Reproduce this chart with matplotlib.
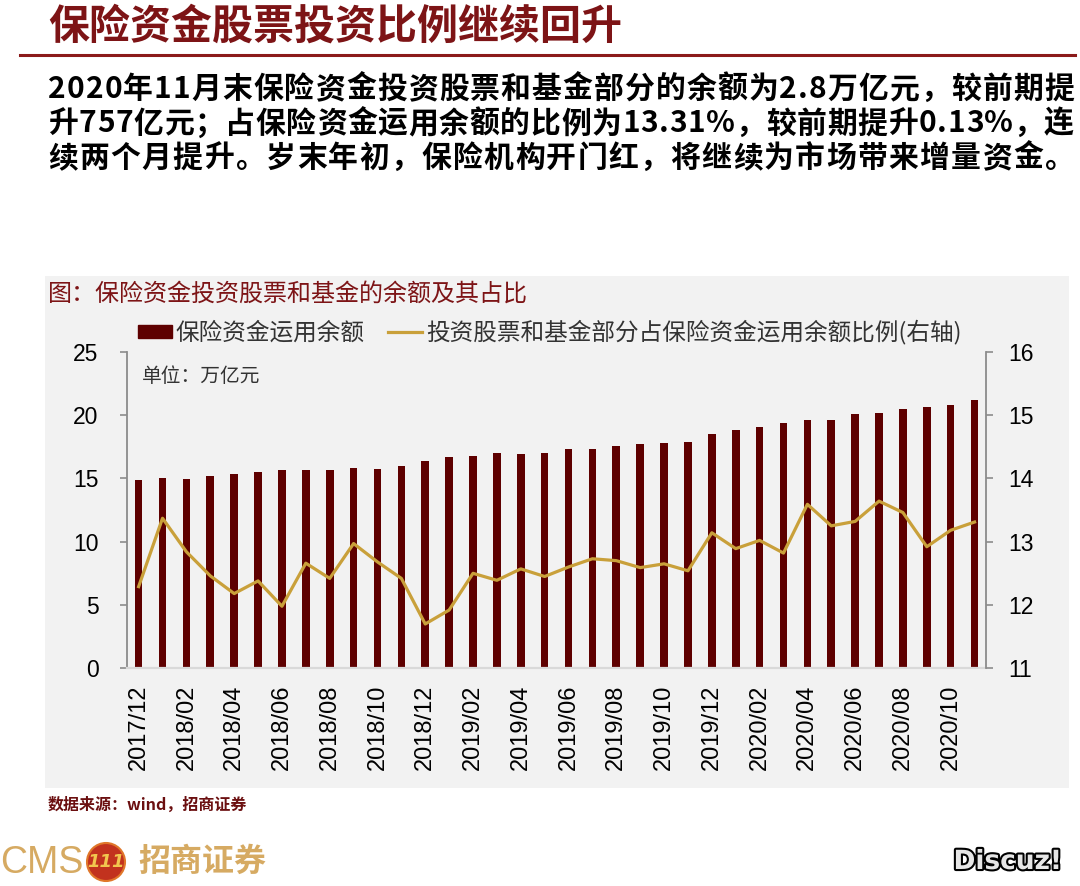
import matplotlib
matplotlib.use("Agg")
import matplotlib.pyplot as plt
import matplotlib.patches as mpatches
import matplotlib.lines as mlines
import matplotlib.patheffects as pe
import numpy as np

plt.rcParams['font.family'] = ['Noto Sans CJK SC', 'DejaVu Sans']

# --- data ---
months = ['2017/12', '2018/01', '2018/02', '2018/03', '2018/04', '2018/05',
          '2018/06', '2018/07', '2018/08', '2018/09', '2018/10', '2018/11',
          '2018/12', '2019/01', '2019/02', '2019/03', '2019/04', '2019/05',
          '2019/06', '2019/07', '2019/08', '2019/09', '2019/10', '2019/11',
          '2019/12', '2020/01', '2020/02', '2020/03', '2020/04', '2020/05',
          '2020/06', '2020/07', '2020/08', '2020/09', '2020/10', '2020/11']
# 保险资金运用余额 (万亿元)
balance = [14.86, 15.00, 14.94, 15.20, 15.36, 15.49, 15.65, 15.65, 15.65,
           15.83, 15.76, 15.99, 16.36, 16.68, 16.73, 17.02, 16.95, 16.97,
           17.31, 17.28, 17.52, 17.73, 17.76, 17.89, 18.47, 18.78, 19.02,
           19.39, 19.57, 19.62, 20.07, 20.18, 20.47, 20.65, 20.80, 21.15]
# 股票和基金占比 (%, 右轴)
ratio = [12.29, 13.37, 12.84, 12.46, 12.18, 12.38, 11.98, 12.66, 12.42,
         12.97, 12.68, 12.42, 11.70, 11.92, 12.50, 12.39, 12.57, 12.45,
         12.60, 12.73, 12.70, 12.59, 12.65, 12.54, 13.14, 12.89, 13.02,
         12.82, 13.59, 13.25, 13.32, 13.64, 13.46, 12.92, 13.18, 13.31]

title = '保险资金股票投资比例继续回升'
body = ['2020年11月末保险资金投资股票和基金部分的余额为2.8万亿元，较前期提',
        '升757亿元；占保险资金运用余额的比例为13.31%，较前期提升0.13%，连',
        '续两个月提升。岁末年初，保险机构开门红，将继续为市场带来增量资金。']
chart_title = '图：保险资金投资股票和基金的余额及其占比'
bar_label = '保险资金运用余额'
line_label = '投资股票和基金部分占保险资金运用余额比例(右轴)'

BAR_C = '#5E0000'
LINE_C = '#C9A03A'
RED = '#7D1416'
W, H = 1080, 886

fig = plt.figure(figsize=(W / 100, H / 100), dpi=100)
renderer = fig.canvas.get_renderer()

def fx(px):
    return px / W

def fy(py):
    return 1 - py / H

# header
fig.text(fx(48), fy(27), title, fontsize=29.5, color=RED, fontweight='bold',
         va='center', ha='left')
fig.add_artist(mlines.Line2D([fx(20), fx(1075)], [fy(55), fy(55)],
                             color='#8B1A1A', lw=2.2, transform=fig.transFigure))

# body paragraph, justified character by character like the original
x0, x1 = 48, 1074
for i, line in enumerate(body):
    ys = fy(89 + i * 34.5)
    chars = [fig.text(0, ys, c, fontsize=21.5, color='black', fontweight='bold',
                      va='center', ha='left') for c in line]
    widths = [t.get_window_extent(renderer).width for t in chars]
    gap = (x1 - x0 - sum(widths)) / (len(chars) - 1)
    pos = x0
    for t, w in zip(chars, widths):
        t.set_x(fx(pos))
        pos += w + gap

# grey panel behind the chart
fig.add_artist(mpatches.Rectangle((fx(45), fy(788)), fx(1069 - 45), (788 - 276) / H,
                                  transform=fig.transFigure, facecolor='#F2F2F2',
                                  edgecolor='none', zorder=0))
fig.text(fx(48), fy(294), chart_title, fontsize=17.3, color=RED, va='center', ha='left')

ax = fig.add_axes([fx(126.7), fy(668.3), fx(986.5 - 126.7), (668.3 - 351.7) / H])
ax.patch.set_visible(False)
x = np.arange(len(months))
bars = ax.bar(x, balance, width=0.32, color=BAR_C, zorder=2)
ax.set_xlim(-0.5, len(months) - 0.5)
ax.set_ylim(0, 25)
ax.set_yticks([0, 5, 10, 15, 20, 25])
ax.set_xticks(x[::2])
ax.set_xticklabels(months[::2], rotation=90, family='Liberation Sans', fontsize=17)
for lab in ax.get_yticklabels():
    lab.set_family('Liberation Sans')
ax.tick_params(axis='y', direction='out', length=5.3, width=1.2, color='#8C8C8C',
               pad=15, labelsize=16.5)
ax.tick_params(axis='x', length=0, pad=12)
for s in ['top', 'right']:
    ax.spines[s].set_visible(False)
ax.spines['left'].set_color('#8C8C8C')
ax.spines['left'].set_linewidth(1.3)
ax.spines['bottom'].set_color('#D9D9D9')
ax.spines['bottom'].set_linewidth(1.6)

ax2 = ax.twinx()
ax2.patch.set_visible(False)
line, = ax2.plot(x, ratio, color=LINE_C, lw=2.3, zorder=3)
ax2.set_ylim(11, 16)
ax2.set_yticks([11, 12, 13, 14, 15, 16])
for lab in ax2.get_yticklabels():
    lab.set_family('Liberation Sans')
ax2.tick_params(axis='y', direction='out', length=5.3, width=1.2, color='#8C8C8C',
                pad=10.5, labelsize=16.5)
for s in ['top', 'left', 'bottom']:
    ax2.spines[s].set_visible(False)
ax2.spines['right'].set_color('#8C8C8C')
ax2.spines['right'].set_linewidth(1.3)

fig.text(fx(141.7), fy(377), '单位：万亿元', fontsize=14.2, color='#333333',
         va='center', ha='left')

bar_handle = mpatches.Patch(color=BAR_C)
line_handle = mlines.Line2D([], [], color=LINE_C, lw=2.3)
fig.legend([bar_handle, line_handle], [bar_label, line_label], ncol=2,
           loc='center left', bbox_to_anchor=(fx(138.3), fy(332.5)),
           frameon=False, fontsize=17, borderpad=0, borderaxespad=0,
           handlelength=1.44, handleheight=0.5, handletextpad=0.15,
           columnspacing=1.0, labelcolor='#333333')

# footer
fig.text(fx(48), fy(805), '数据来源：wind，招商证券', fontsize=11.5, color='#6B0F10',
         fontweight='bold', va='center', ha='left')
fig.text(fx(0), fy(863), 'CMS', fontsize=27, color='#D6AA62', family='Liberation Sans',
         va='center', ha='left')
fig.add_artist(mpatches.Ellipse((fx(106), fy(862)), fx(38), 38 / H,
                                transform=fig.transFigure, facecolor='#C2321E',
                                edgecolor='#E0772A', lw=1.5))
fig.text(fx(106), fy(862), '111', fontsize=13, color='#F2C64E', fontweight='bold',
         style='italic', family='DejaVu Sans', va='center', ha='center')
fig.text(fx(138), fy(862), '招商证券', fontsize=23, color='#D6AA62', fontweight='bold',
         va='center', ha='left')
fig.text(fx(1062), fy(862), 'Discuz!', fontsize=19, color='#E6E6E6', fontweight='bold',
         family='DejaVu Sans', va='center', ha='right',
         path_effects=[pe.withStroke(linewidth=3, foreground='black')])

fig.savefig('out.png', dpi=100)
